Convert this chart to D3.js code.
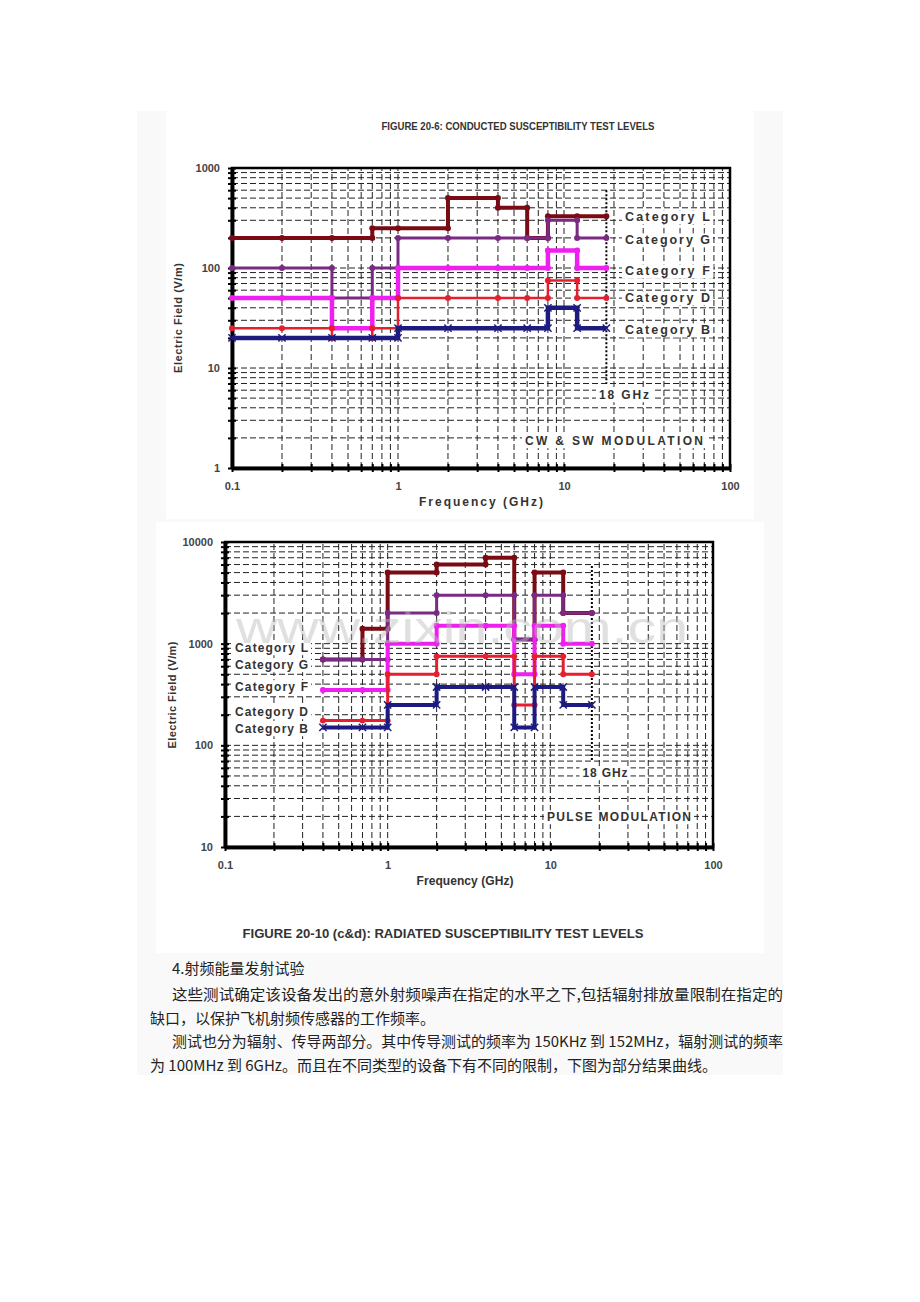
<!DOCTYPE html>
<html>
<head>
<meta charset="utf-8">
<script src="https://cdn.jsdelivr.net/npm/d3@7"></script>
<style>
  body { margin: 0; background: #fff; }
  svg { display: block; }
  .tickText { font-family: "Liberation Sans", Arial, sans-serif; font-weight: bold; font-size: 11px; fill: #444; }
  .lbl { font-family: "Liberation Sans", Arial, sans-serif; font-weight: bold; fill: #333; }
  .cn { font-family: "Noto Sans CJK SC", sans-serif; font-size: 15px; fill: #222; }
</style>
</head>
<body>
<script>
// data
var categories = ["Category L", "Category G", "Category F", "Category D", "Category B"];
var colors = ["#7a0b14", "#7b2a84", "#ef1ff0", "#e5202e", "#1d1b80"];

// conducted, CW & SW modulation: level of each step starting at that frequency
var cwFreqs = [0.1, 0.2, 0.4, 0.7, 1, 2, 4, 6, 8, 12, 18];
var cwL = [200, 200, 200, 250, 250, 500, 400, 200, 330, 330];
var cwG = [100, 100, 50, 100, 200, 200, 200, 200, 300, 200];
var cwF = [50, 50, 25, 50, 100, 100, 100, 100, 150, 100];
var cwD = [25, 25, 20, 25, 50, 50, 50, 50, 75, 50];
var cwB = [20, 20, 20, 20, 25, 25, 25, 25, 40, 25];

// radiated, pulse modulation
var pmFreqs = [0.4, 0.7, 1, 2, 4, 6, 8, 12, 18];
var pmL = [700, 1400, 5000, 6000, 7000, 1100, 5000, 2000];
var pmG = [700, 700, 2000, 3000, 3000, 1100, 3000, 2000];
var pmF = [350, 350, 1000, 1500, 1500, 500, 1500, 1000];
var pmD = [175, 175, 500, 750, 750, 250, 750, 500];
var pmB = [150, 150, 250, 375, 375, 150, 375, 250];

var xTickLabels = ["0.1", "1", "10", "100"];

var textLines = [
  "4.射频能量发射试验",
  "这些测试确定该设备发出的意外射频噪声在指定的水平之下,包括辐射排放量限制在指定的",
  "缺口，以保护飞机射频传感器的工作频率。",
  "测试也分为辐射、传导两部分。其中传导测试的频率为 150KHz 到 152MHz，辐射测试的频率",
  "为 100MHz 到 6GHz。而且在不同类型的设备下有不同的限制，下图为部分结果曲线。"
];

var svg = d3.select("body").append("svg")
    .attr("width", 920)
    .attr("height", 1302);

// page panels
svg.append("rect").attr("x", 137).attr("y", 111).attr("width", 646).attr("height", 964).attr("fill", "#f9f9f9");
svg.append("rect").attr("x", 166).attr("y", 111).attr("width", 588).attr("height", 408).attr("fill", "#fff");
svg.append("rect").attr("x", 156).attr("y", 522).attr("width", 608).attr("height", 431).attr("fill", "#fff");

function isMajor(d) {
    var l = Math.log10(d);
    return Math.abs(Math.round(l) - l) < 1e-9;
}

function labelBox(g, x, y, txt, size, anchor, width) {
    var t = g.append("text")
        .attr("class", "lbl")
        .attr("x", x)
        .attr("y", y)
        .attr("dy", "0.35em")
        .attr("text-anchor", anchor)
        .style("font-size", size + "px")
        .text(txt);
    if (width) t.attr("textLength", width).attr("lengthAdjust", "spacing");
    var b = t.node().getBBox();
    g.insert("rect", function () { return t.node(); })
        .attr("x", b.x - 3).attr("y", b.y)
        .attr("width", b.width + 6).attr("height", b.height)
        .attr("fill", "#fff");
}

function drawChart(cfg) {
    var x = d3.scaleLog().domain([0.1, 100]).range(cfg.xRange);
    var y = d3.scaleLog().domain(cfg.yDomain).range(cfg.yRange);
    var g = svg.append("g");

    // dashed grid
    g.append("g").selectAll("line").data(y.ticks()).enter().append("line")
        .attr("x1", cfg.xRange[0]).attr("x2", cfg.xRange[1])
        .attr("y1", d => y(d)).attr("y2", d => y(d))
        .attr("stroke", "#222").attr("stroke-width", 1).attr("stroke-dasharray", "6,3");
    g.append("g").selectAll("line").data(x.ticks()).enter().append("line")
        .attr("x1", d => x(d)).attr("x2", d => x(d))
        .attr("y1", cfg.yRange[0]).attr("y2", cfg.yRange[1])
        .attr("stroke", "#222").attr("stroke-width", 1).attr("stroke-dasharray", "6,3");

    // 18 GHz dotted marker
    g.append("line")
        .attr("x1", x(18)).attr("x2", x(18))
        .attr("y1", y(cfg.dotTop)).attr("y2", y(cfg.dotBottom))
        .attr("stroke", "#000").attr("stroke-width", 2).attr("stroke-dasharray", "2,2");

    // frame top/right
    g.append("rect")
        .attr("x", cfg.xRange[0]).attr("y", cfg.yRange[1])
        .attr("width", cfg.xRange[1] - cfg.xRange[0])
        .attr("height", cfg.yRange[0] - cfg.yRange[1])
        .attr("fill", "none").attr("stroke", "#000").attr("stroke-width", 2.5);

    // axes
    var leftAxis = d3.axisLeft(y).tickValues(y.ticks())
        .tickFormat(d => isMajor(d) ? String(d) : "")
        .tickSizeInner(4).tickSizeOuter(0).tickPadding(cfg.yPad);
    var leftIn = d3.axisRight(y).tickValues(y.ticks()).tickFormat("").tickSizeInner(4).tickSizeOuter(0);
    var bottomAxis = d3.axisBottom(x).tickValues(x.ticks())
        .tickFormat(d => isMajor(d) ? xTickLabels[Math.round(Math.log10(d)) + 1] : "")
        .tickSizeInner(4).tickSizeOuter(0).tickPadding(cfg.xPad);
    var bottomIn = d3.axisTop(x).tickValues(x.ticks()).tickFormat("").tickSizeInner(4).tickSizeOuter(0);

    [leftAxis, leftIn].forEach(a => {
        var ax = g.append("g").attr("transform", `translate(${cfg.xRange[0]},0)`).call(a);
        ax.select(".domain").attr("stroke-width", 3.5);
        ax.selectAll(".tick line").attr("stroke-width", 2);
        ax.selectAll("text").attr("class", "tickText");
    });
    [bottomAxis, bottomIn].forEach(a => {
        var ax = g.append("g").attr("transform", `translate(0,${cfg.yRange[0]})`).call(a);
        ax.select(".domain").attr("stroke-width", 3.5);
        ax.selectAll(".tick line").attr("stroke-width", 2);
        ax.selectAll("text").attr("class", "tickText");
    });

    // step series
    var line = d3.line().x(d => x(d[0])).y(d => y(d[1])).curve(d3.curveStepAfter);
    var dot = d3.symbol().type(d3.symbolCircle).size(28);
    var cross = d3.symbol().type(d3.symbolTimes).size(36);
    cfg.series.forEach((vals, k) => {
        var pts = cfg.freqs.map((f, i) => [f, vals[Math.min(i, vals.length - 1)]]);
        g.append("path").datum(pts)
            .attr("d", line)
            .attr("fill", "none")
            .attr("stroke", colors[k])
            .attr("stroke-width", cfg.widths[k]);
        var marks = [];
        pts.forEach((p, i) => {
            marks.push(p);
            if (i > 0 && pts[i - 1][1] !== p[1]) marks.push([p[0], pts[i - 1][1]]);
        });
        g.append("g").selectAll("path").data(marks).enter().append("path")
            .attr("transform", d => `translate(${x(d[0])},${y(d[1])})`)
            .attr("d", k === 4 ? cross : dot)
            .attr("fill", colors[k])
            .attr("stroke", colors[k])
            .attr("stroke-width", k === 4 ? 1.5 : 0);
    });

    // category labels
    categories.forEach((c, k) => {
        labelBox(g, cfg.catX, cfg.catY[k], c, cfg.catSize, "start", cfg.catW);
    });
    labelBox(g, cfg.ghzPos[0], cfg.ghzPos[1], "18 GHz", 12, "middle", cfg.ghzW);
    labelBox(g, cfg.modPos[0], cfg.modPos[1], cfg.modText, 12, "middle", cfg.modW);

    // axis titles
    g.append("text").attr("class", "lbl")
        .attr("x", cfg.xTitle[0]).attr("y", cfg.xTitle[1]).attr("dy", "0.35em")
        .attr("text-anchor", "middle").style("font-size", "12px")
        .attr("textLength", cfg.xTitle[2]).attr("lengthAdjust", "spacing")
        .text("Frequency (GHz)");
    g.append("text").attr("class", "lbl")
        .attr("transform", `translate(${cfg.yTitle[0]},${cfg.yTitle[1]}) rotate(-90)`)
        .attr("dy", "0.35em")
        .attr("text-anchor", "middle").style("font-size", "11px")
        .attr("textLength", cfg.yTitle[2]).attr("lengthAdjust", "spacing")
        .text("Electric Field (V/m)");

    svg.append("text").attr("class", "lbl")
        .attr("x", cfg.title[0]).attr("y", cfg.title[1]).attr("dy", "0.35em")
        .attr("text-anchor", "middle").style("font-size", cfg.title[3] + "px")
        .attr("textLength", cfg.title[2]).attr("lengthAdjust", "spacingAndGlyphs")
        .text(cfg.titleText);
    return g;
}

drawChart({
    xRange: [232, 730], yDomain: [1, 1000], yRange: [468, 168],
    yPad: 8, xPad: 10,
    freqs: cwFreqs, series: [cwL, cwG, cwF, cwD, cwB],
    widths: [4, 3, 4.5, 2.5, 4.5],
    dotTop: 600, dotBottom: 7,
    catX: 625, catY: [217, 240, 271, 298, 330], catSize: 12.5, catW: 85,
    ghzPos: [624, 395], ghzW: 50,
    modPos: [614, 441], modText: "CW & SW MODULATION", modW: 178,
    xTitle: [481, 502, 124], yTitle: [178, 318, 110],
    title: [518, 126, 273, 10.5], titleText: "FIGURE 20-6: CONDUCTED SUSCEPTIBILITY TEST LEVELS"
});

drawChart({
    xRange: [225, 713], yDomain: [10, 10000], yRange: [847, 542],
    yPad: 8, xPad: 10,
    freqs: pmFreqs, series: [pmL, pmG, pmF, pmD, pmB],
    widths: [4, 3, 4, 3, 4],
    dotTop: 5800, dotBottom: 70,
    catX: 235, catY: [648, 665, 687, 712, 729], catSize: 12, catW: 73,
    ghzPos: [605, 773], ghzW: 45,
    modPos: [619, 817], modText: "PULSE MODULATION", modW: 144,
    xTitle: [465, 881, 97], yTitle: [172, 695, 107],
    title: [443, 934, 401, 12.5], titleText: "FIGURE 20-10 (c&d): RADIATED SUSCEPTIBILITY TEST LEVELS"
});

// watermark
svg.append("text")
    .attr("x", 236).attr("y", 643)
    .attr("textLength", 452).attr("lengthAdjust", "spacingAndGlyphs")
    .style("font-family", "'Liberation Sans', Arial, sans-serif")
    .style("font-size", "44px")
    .attr("fill", "#bbb").attr("opacity", 0.45)
    .text("www.zixin.com.cn");

// body text
var tx = [172, 172, 150, 172, 150];
var ty = [974, 1000, 1024, 1047, 1071];
var tw = [null, 611, null, 611, null];
textLines.forEach((s, i) => {
    var t = svg.append("text").attr("class", "cn")
        .attr("x", tx[i]).attr("y", ty[i]).text(s);
    if (tw[i]) t.attr("textLength", tw[i]).attr("lengthAdjust", "spacingAndGlyphs");
});
</script>
</body>
</html>
